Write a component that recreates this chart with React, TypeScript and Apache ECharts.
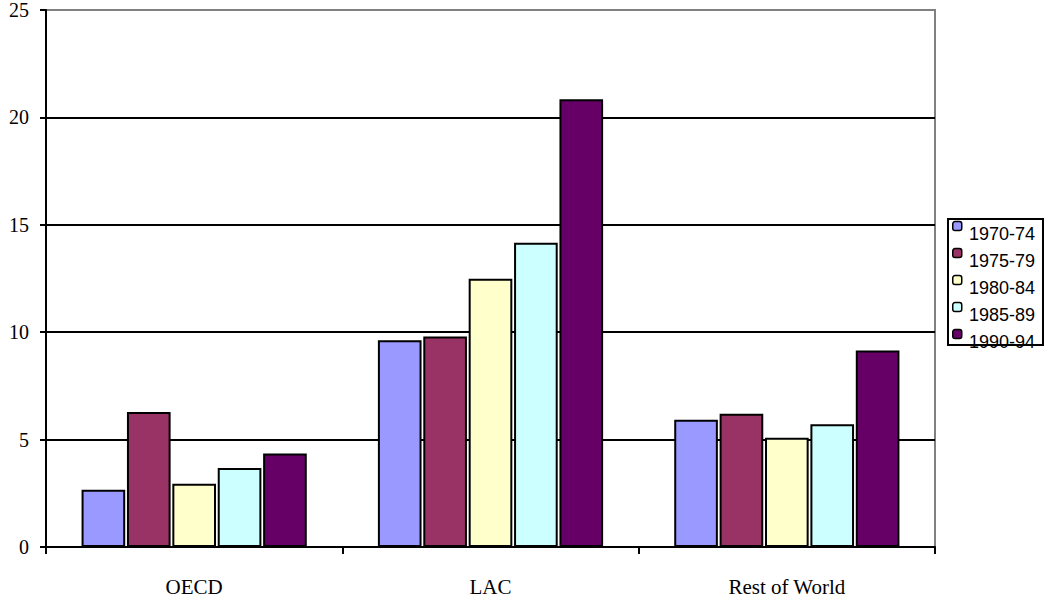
import React, { useEffect, useRef } from "react";
import * as echarts from "echarts";

const categories = ["OECD", "LAC", "Rest of World"];
const seriesNames = ["1970-74", "1975-79", "1980-84", "1985-89", "1990-94"];
const colors = ["#9999FF", "#993366", "#FFFFCC", "#CCFFFF", "#660066"];
const v1970 = [2.66, 9.62, 5.92];
const v1975 = [6.28, 9.8, 6.2];
const v1980 = [2.94, 12.49, 5.09];
const v1985 = [3.68, 14.16, 5.72];
const v1990 = [4.35, 20.84, 9.15];
const seriesValues = [v1970, v1975, v1980, v1985, v1990];

const legendBase = {
  orient: "vertical",
  left: 952,
  itemWidth: 9,
  itemHeight: 9,
  itemGap: -7,
  padding: 0,
  z: 10,
  data: seriesNames,
};

export default function App() {
  const ref = useRef<HTMLDivElement>(null);
  useEffect(() => {
    const chart = echarts.init(ref.current!, null, { renderer: "svg" });
    chart.setOption({
      animation: false,
      backgroundColor: "#fff",
      grid: {
        left: 46,
        top: 8,
        right: 114,
        bottom: 54,
        show: true,
        borderColor: "#808080",
        borderWidth: 2,
        backgroundColor: "transparent",
      },
      graphic: [
        {
          type: "rect",
          left: 947,
          top: 218,
          z: 0,
          shape: { width: 95, height: 126 },
          style: { fill: "#fff", stroke: "#000", lineWidth: 2 },
        },
      ],
      legend: [
        {
          ...legendBase,
          top: 209,
          formatter: () => " ",
          textStyle: {
            fontFamily: "Liberation Sans, Arial, sans-serif",
            fontSize: 18,
            lineHeight: 18,
            color: "transparent",
            padding: [16, 0, 0, 3],
          },
          itemStyle: { borderColor: "#000", borderWidth: 1.5 },
        },
        {
          ...legendBase,
          top: 217,
          textStyle: {
            fontFamily: "Liberation Sans, Arial, sans-serif",
            fontSize: 18,
            lineHeight: 18,
            color: "#000",
            padding: [16, 0, 0, 3],
          },
          itemStyle: { color: "transparent", borderWidth: 0, opacity: 0 },
        },
      ],
      xAxis: {
        type: "category",
        data: categories,
        axisLine: { lineStyle: { color: "#000", width: 2 } },
        axisTick: { show: true, length: 7, lineStyle: { color: "#000", width: 2 } },
        axisLabel: {
          margin: 29,
          fontFamily: "Liberation Serif, Times New Roman, serif",
          fontSize: 21,
          color: "#000",
        },
      },
      yAxis: {
        type: "value",
        min: 0,
        max: 25,
        interval: 5,
        axisLine: { show: true, lineStyle: { color: "#000", width: 2 } },
        axisTick: { show: true, length: 6, lineStyle: { color: "#000", width: 2 } },
        axisLabel: {
          margin: 17,
          verticalAlign: "middle",
          padding: [12, 0, 0, 0],
          fontFamily: "Liberation Serif, Times New Roman, serif",
          fontSize: 20,
          color: "#000",
        },
        splitLine: {
          show: true,
          lineStyle: {
            color: ["#000", "#000", "#000", "#000", "#000", "#808080"],
            width: 2,
          },
        },
      },
      series: seriesNames.map((name, i) => ({
        name,
        type: "bar",
        data: seriesValues[i],
        barGap: "4%",
        barCategoryGap: "24%",
        itemStyle: { color: colors[i], borderColor: "#000", borderWidth: 2 },
      })),
    });
    return () => chart.dispose();
  }, []);
  return <div ref={ref} style={{ width: 1049, height: 601, position: "absolute", left: 0, top: 0 }} />;
}
